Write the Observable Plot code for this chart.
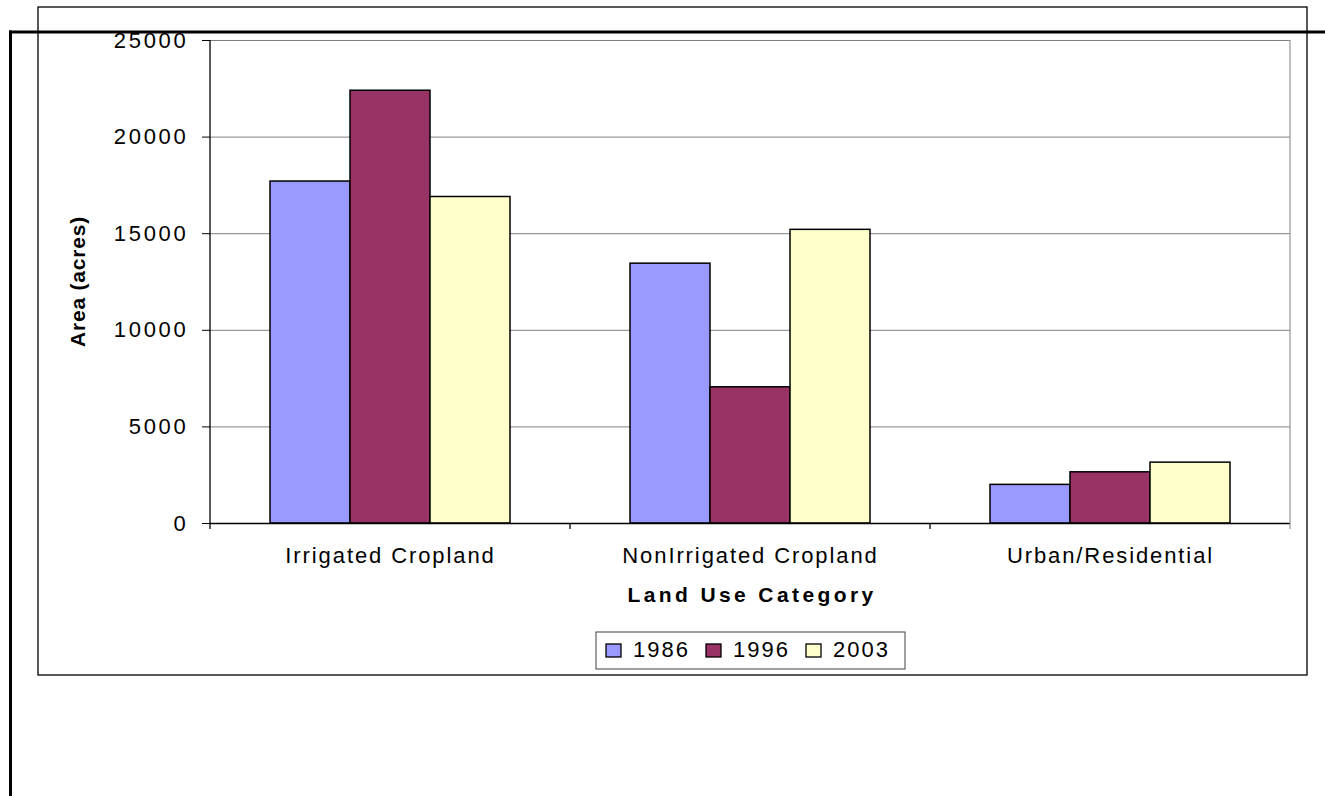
<!DOCTYPE html>
<html><head><meta charset="utf-8">
<script src="https://cdn.jsdelivr.net/npm/d3@7"></script>
<script src="https://cdn.jsdelivr.net/npm/@observablehq/plot@0.6"></script>
<style>
html,body{margin:0;padding:0;background:#fff;}
#chart{position:relative;width:1325px;height:796px;}
.chart g[aria-label^="y-axis"] text{letter-spacing:2.7px;}
.chart g[aria-label^="fx-axis"] text{letter-spacing:1.9px;}
</style></head><body><div id="chart"></div>
<script>
const categories = ["Irrigated Cropland", "NonIrrigated Cropland", "Urban/Residential"];
const years = ["1986", "1996", "2003"];
const values1986 = [17700, 13450, 2000];
const values1996 = [22400, 7050, 2650];
const values2003 = [16900, 15200, 3150];
const yTicks = [0, 5000, 10000, 15000, 20000, 25000];
const colors = ["#9999FF", "#993366", "#FFFFCC"];
const xTitle = "Land Use Category";
const yTitle = "Area (acres)";

const seriesValues = [values1986, values1996, values2003];
const data = [];
categories.forEach((c, i) => years.forEach((yr, j) => data.push({category: c, year: yr, value: seriesValues[j][i]})));

const FONT = "'Liberation Sans', Arial, sans-serif";

const plot = Plot.plot({
  width: 1325, height: 796,
  marginLeft: 210, marginRight: 35, marginTop: 40, marginBottom: 273,
  className: "chart",
  style: {fontFamily: FONT, fontSize: "22px", color: "#000", background: "transparent", overflow: "visible"},
  fx: {domain: categories, padding: 0, label: null, axis: "bottom", tickSize: 0, tickPadding: 24},
  x: {domain: years, paddingInner: 0, paddingOuter: 0.75, axis: null},
  y: {domain: [0, 25000], ticks: yTicks, tickSize: 8, tickPadding: 14, label: null, tickFormat: d => String(d)},
  color: {domain: years, range: colors},
  marks: [
    Plot.ruleY(yTicks.filter(d => d > 0), {stroke: "#808080", strokeWidth: 1}),
    Plot.barY(data, {fx: "category", x: "year", y: "value", fill: "year", stroke: "#000", strokeWidth: 1.5}),
    Plot.ruleY([0], {stroke: "#000", strokeWidth: 1.5})
  ]
});
document.getElementById("chart").appendChild(plot);

const svg = d3.select(plot);
const fxS = plot.scale("fx");
const yS = plot.scale("y");
const y0 = yS.apply(0), yTop = yS.apply(25000);
const left = fxS.apply(categories[0]);
const right = fxS.apply(categories[categories.length - 1]) + fxS.bandwidth;

const g = svg.append("g").attr("class", "decor").attr("text-anchor", "start");
// chart area box
g.append("rect").attr("x", 38).attr("y", 7).attr("width", 1269).attr("height", 668)
  .attr("fill", "none").attr("stroke", "#000").attr("stroke-width", 1.3);
// plot area right border
g.append("line").attr("x1", right).attr("x2", right).attr("y1", yTop).attr("y2", y0 + 6)
  .attr("stroke", "#808080").attr("stroke-width", 1);
// y axis line
g.append("line").attr("x1", left).attr("x2", left).attr("y1", yTop).attr("y2", y0)
  .attr("stroke", "#000").attr("stroke-width", 1.3);
// category boundary ticks
categories.forEach((c) => {
  const xx = fxS.apply(c);
  g.append("line").attr("x1", xx).attr("x2", xx).attr("y1", y0).attr("y2", y0 + 6)
    .attr("stroke", "#000").attr("stroke-width", 1.3);
});
// axis titles
g.append("text").attr("x", (left + right) / 2 + 2).attr("y", 602)
  .attr("text-anchor", "middle").attr("font-family", FONT).attr("font-size", 21)
  .attr("font-weight", "bold").style("letter-spacing", "3.4px").text(xTitle);
g.append("text").attr("transform", `translate(85,${(y0 + yTop) / 2}) rotate(-90)`)
  .attr("text-anchor", "middle").attr("font-family", FONT).attr("font-size", 21)
  .attr("font-weight", "bold").style("letter-spacing", "0.8px").text(yTitle);
// legend
g.append("rect").attr("x", 596).attr("y", 632).attr("width", 309).attr("height", 37)
  .attr("fill", "#fff").attr("stroke", "#404040").attr("stroke-width", 1);
years.forEach((yr, i) => {
  const x0 = 606 + i * 100;
  g.append("rect").attr("x", x0).attr("y", 644).attr("width", 15).attr("height", 13)
    .attr("fill", colors[i]).attr("stroke", "#000").attr("stroke-width", 1.3);
  g.append("text").attr("x", x0 + 27).attr("y", 657).attr("text-anchor", "start")
    .attr("font-family", FONT).attr("font-size", 22)
    .style("letter-spacing", "2px").text(yr);
});
// heavy page lines
g.append("line").attr("x1", 9).attr("x2", 1325).attr("y1", 32).attr("y2", 32)
  .attr("stroke", "#000").attr("stroke-width", 3);
g.append("line").attr("x1", 10.5).attr("x2", 10.5).attr("y1", 30.5).attr("y2", 796)
  .attr("stroke", "#000").attr("stroke-width", 3);
</script>
</body></html>
